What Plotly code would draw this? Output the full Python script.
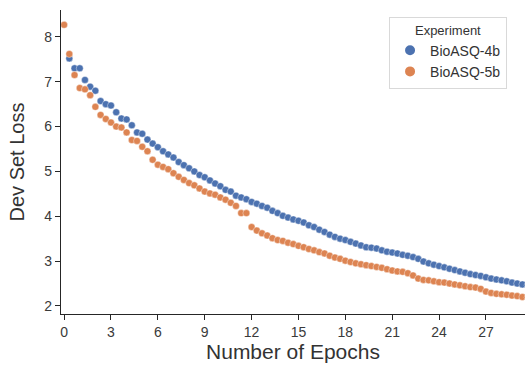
import plotly.graph_objects as go

evals_per_epoch = 3

# Dev-set loss readings, one per evaluation (every 1/3 epoch)
bioasq_4b_loss = [
    7.52, 7.30, 7.30, 7.04, 6.89, 6.80, 6.57, 6.50, 6.47, 6.32,
    6.18, 6.16, 6.03, 5.87, 5.84, 5.71, 5.62, 5.54, 5.45, 5.38,
    5.31, 5.21, 5.14, 5.07, 5.00, 4.92, 4.87, 4.80, 4.73, 4.67,
    4.59, 4.55, 4.46, 4.42, 4.38, 4.32, 4.28, 4.23, 4.19, 4.12,
    4.07, 4.01, 3.97, 3.93, 3.90, 3.86, 3.80, 3.76, 3.70, 3.65,
    3.59, 3.54, 3.50, 3.47, 3.43, 3.39, 3.35, 3.31, 3.30, 3.28,
    3.24, 3.21, 3.19, 3.17, 3.14, 3.12, 3.09, 3.05, 2.99, 2.95,
    2.92, 2.89, 2.86, 2.83, 2.80, 2.77, 2.74, 2.71, 2.69, 2.67,
    2.64, 2.61, 2.59, 2.57, 2.55, 2.52, 2.50, 2.48, 2.46,
]
bioasq_4b_first_eval = 1

bioasq_5b_loss = [
    8.27, 7.62, 7.15, 6.86, 6.83, 6.70, 6.44, 6.26, 6.17, 6.09,
    6.00, 5.98, 5.87, 5.70, 5.68, 5.55, 5.45, 5.26, 5.15, 5.10,
    5.05, 4.96, 4.88, 4.81, 4.74, 4.69, 4.62, 4.55, 4.51, 4.48,
    4.42, 4.37, 4.30, 4.23, 4.07, 4.07, 3.76, 3.68, 3.62, 3.57,
    3.51, 3.47, 3.45, 3.41, 3.38, 3.34, 3.31, 3.27, 3.24, 3.20,
    3.17, 3.12, 3.08, 3.05, 3.01, 2.98, 2.95, 2.93, 2.91, 2.89,
    2.87, 2.85, 2.82, 2.79, 2.77, 2.76, 2.73, 2.68, 2.61, 2.58,
    2.57, 2.55, 2.53, 2.52, 2.50, 2.48, 2.46, 2.44, 2.42, 2.41,
    2.38, 2.32, 2.29, 2.27, 2.26, 2.25, 2.23, 2.22, 2.20, 2.19,
]
bioasq_5b_first_eval = 0

series_names = ["BioASQ-4b", "BioASQ-5b"]
series_colors = ["#4c72b0", "#dd8452"]
x_ticks = [0, 3, 6, 9, 12, 15, 18, 21, 24, 27]
y_ticks = [2, 3, 4, 5, 6, 7, 8]


def epochs(first, n):
    return [(first + i) / evals_per_epoch for i in range(n)]


fig = go.Figure()
for name, color, first, vals in [
    (series_names[0], series_colors[0], bioasq_4b_first_eval, bioasq_4b_loss),
    (series_names[1], series_colors[1], bioasq_5b_first_eval, bioasq_5b_loss),
]:
    fig.add_trace(go.Scatter(
        x=epochs(first, len(vals)), y=vals, mode="markers", name=name,
        marker=dict(color=color, size=7, line=dict(color="white", width=0.4)),
        cliponaxis=True,
    ))

axis_common = dict(
    showgrid=False, zeroline=False, showline=True, linecolor="#262626",
    linewidth=1.3, ticks="outside", ticklen=5, tickwidth=1.3, tickcolor="#262626",
    tickfont=dict(family="Liberation Sans, Arial, sans-serif", size=14, color="#3a3a3a"),
    mirror=False, automargin=False,
)

fig.update_layout(
    width=525, height=366,
    margin=dict(l=61, r=0, t=10, b=52),
    paper_bgcolor="white", plot_bgcolor="white",
    font=dict(family="Liberation Sans, Arial, sans-serif", color="#262626"),
    xaxis=dict(
        range=[-0.2, 29.5], tickvals=x_ticks,
        title=dict(text="Number of Epochs", font=dict(size=21, color="#333333"), standoff=0),
        **axis_common,
    ),
    yaxis=dict(
        range=[1.82, 8.6], tickvals=y_ticks,
        title=dict(text="Dev Set Loss", font=dict(size=20, color="#333333"), standoff=14),
        **axis_common,
    ),
    legend=dict(
        x=0.707, y=0.978, xanchor="left", yanchor="top",
        bordercolor="#d9d9d9", borderwidth=1, bgcolor="white",
        title=dict(text="Experiment", side="top center", font=dict(size=13, color="#333333")),
        font=dict(size=14, color="#333333"),
        itemsizing="constant", tracegroupgap=0,
    ),
    showlegend=True,
)

fig.write_html(
    "out.html",
    config={"displayModeBar": False},
    post_script="document.body.style.margin='0';document.body.style.padding='0';",
)
